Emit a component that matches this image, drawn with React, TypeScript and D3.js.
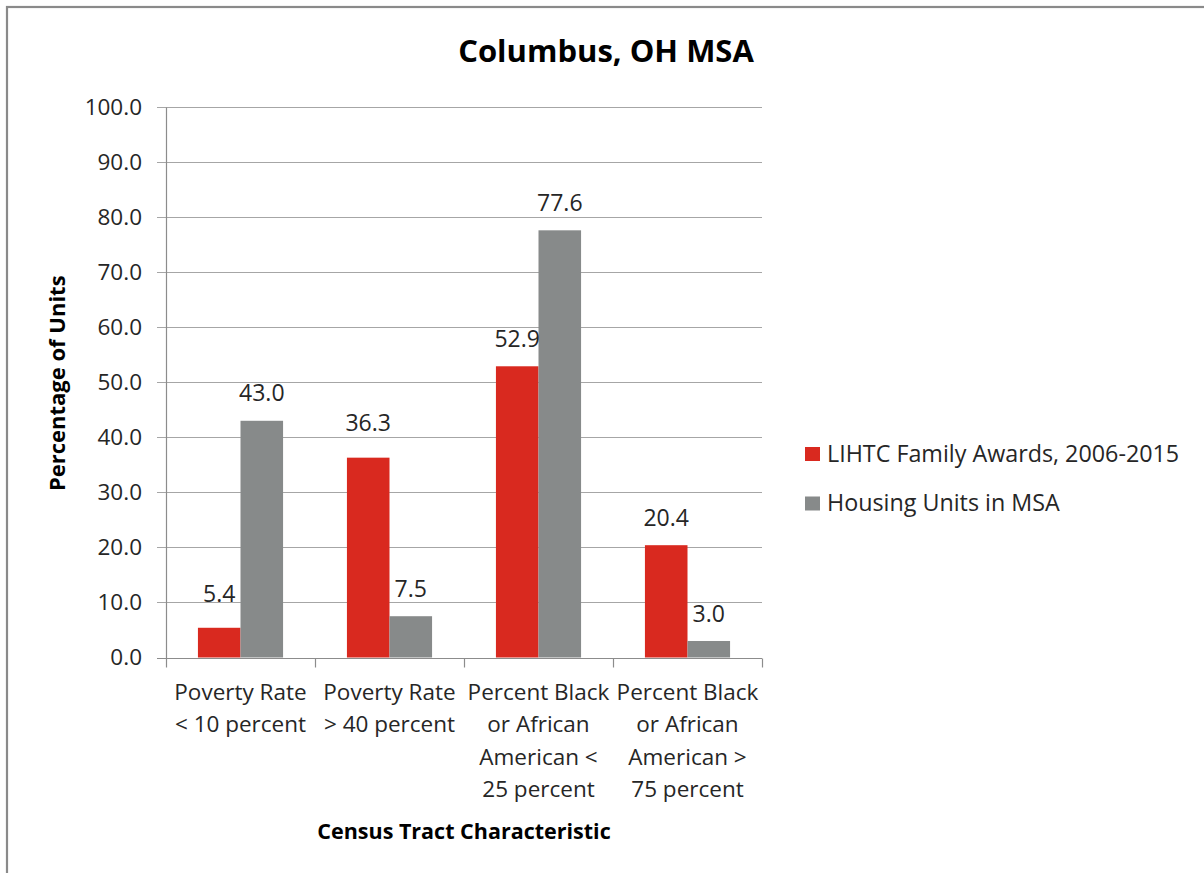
import React from "react";
import * as d3 from "d3";

const categories = [
  "Poverty Rate < 10 percent",
  "Poverty Rate > 40 percent",
  "Percent Black or African American < 25 percent",
  "Percent Black or African American > 75 percent",
];
const categoryLines = [
  ["Poverty Rate", "< 10 percent"],
  ["Poverty Rate", "> 40 percent"],
  ["Percent Black", "or African", "American <", "25 percent"],
  ["Percent Black", "or African", "American >", "75 percent"],
];
const seriesNames = ["LIHTC Family Awards, 2006-2015", "Housing Units in MSA"];
const lihtcValues = [5.4, 36.3, 52.9, 20.4];
const housingValues = [43.0, 7.5, 77.6, 3.0];
const yTicks = [0, 10, 20, 30, 40, 50, 60, 70, 80, 90, 100];
const titleText = "Columbus, OH MSA";
const yTitle = "Percentage of Units";
const xTitle = "Census Tract Characteristic";

// styling
const seriesColors = ["#d9291f", "#878a8a"];
const labelExtra = [[7, 8, 0, 0], [1, 0, 0, 0]]; // manual label nudges (px)
const FONT = "'Open Sans', 'Liberation Sans', sans-serif";
const TXT = "#262626";

export default function App() {
  const W = 1204, H = 873;
  const left = 166, right = 762, top = 107, bottom = 657.5;
  const x = d3.scaleBand<string>().domain(categories).range([left, right]);
  const xs = d3.scaleBand<string>().domain(seriesNames).range([0, x.bandwidth()]).paddingOuter(0.75);
  const y = d3.scaleLinear().domain([0, 100]).range([bottom, top]);
  const series = [lihtcValues, housingValues];
  const crisp = (v: number) => Math.round(v) + 0.5;
  const fmt = d3.format(".1f");

  return (
    <div style={{ position: "absolute", left: 0, top: 0 }}>
      <svg width={W} height={H} style={{ display: "block", background: "#fff" }} fontFamily={FONT}>
        <rect x={7} y={7} width={W + 10} height={H + 10} fill="#fff" stroke="#8a8a8a" strokeWidth={2.2} />
        <text x={606} y={62} textAnchor="middle" fontSize={31} fontWeight="bold" fill="#000">{titleText}</text>

        {/* gridlines */}
        {yTicks.map((t) => (
          <line key={"g" + t} x1={left - 9} x2={right} y1={crisp(y(t))} y2={crisp(y(t))} stroke={t === 0 ? "#8c8c8c" : "#a6a6a6"} strokeWidth={1.2} />
        ))}
        {/* y axis line */}
        <line x1={left + 0.5} x2={left + 0.5} y1={crisp(y(100))} y2={crisp(y(0))} stroke="#8c8c8c" strokeWidth={1.2} />
        {/* y tick labels */}
        {yTicks.map((t) => (
          <text key={"yt" + t} x={left - 24} y={y(t)} dy="0.35em" textAnchor="end" fontSize={22.5} fill={TXT}>{fmt(t)}</text>
        ))}
        {/* category ticks */}
        {[...categories.map((c) => x(c) as number), right].map((v, i) => (
          <line key={"ct" + i} x1={crisp(v)} x2={crisp(v)} y1={crisp(y(0))} y2={crisp(y(0)) + 9} stroke="#8c8c8c" strokeWidth={1.2} />
        ))}

        {/* bars */}
        {series.map((vals, si) =>
          vals.map((v, ci) => {
            const bx = (x(categories[ci]) as number) + (xs(seriesNames[si]) as number);
            return (
              <rect key={`b${si}-${ci}`} x={bx} y={y(v)} width={xs.bandwidth()} height={y(0) - y(v)} fill={seriesColors[si]} />
            );
          })
        )}
        {/* data labels */}
        {series.map((vals, si) =>
          vals.map((v, ci) => {
            const bx = (x(categories[ci]) as number) + (xs(seriesNames[si]) as number) + xs.bandwidth() / 2;
            return (
              <text key={`l${si}-${ci}`} x={bx} y={y(v) - 19 - labelExtra[si][ci]} textAnchor="middle" fontSize={23} fill={TXT}>{fmt(v)}</text>
            );
          })
        )}

        {/* category labels */}
        {categories.map((c, ci) => (
          <text key={"cl" + ci} x={(x(c) as number) + x.bandwidth() / 2} y={700} textAnchor="middle" fontSize={22.5} fill={TXT}>
            {categoryLines[ci].map((ln, li) => (
              <tspan key={li} x={(x(c) as number) + x.bandwidth() / 2} y={700 + li * 32.3}>{ln}</tspan>
            ))}
          </text>
        ))}

        {/* axis titles */}
        <text x={(left + right) / 2} y={839} textAnchor="middle" fontSize={21.5} fontWeight="bold" fill="#000">{xTitle}</text>
        <text transform={`translate(65,${(top + bottom) / 2 + 1}) rotate(-90)`} textAnchor="middle" fontSize={22} fontWeight="bold" fill="#000">{yTitle}</text>

        {/* legend */}
        {seriesNames.map((s, i) => (
          <g key={"lg" + i} transform={`translate(805,${447 + i * 49.5})`}>
            <rect x={0} y={0} width={15} height={14} fill={seriesColors[i]} />
            <text x={22} y={14.5} fontSize={23.3} fill={TXT}>{s}</text>
          </g>
        ))}
      </svg>
    </div>
  );
}
